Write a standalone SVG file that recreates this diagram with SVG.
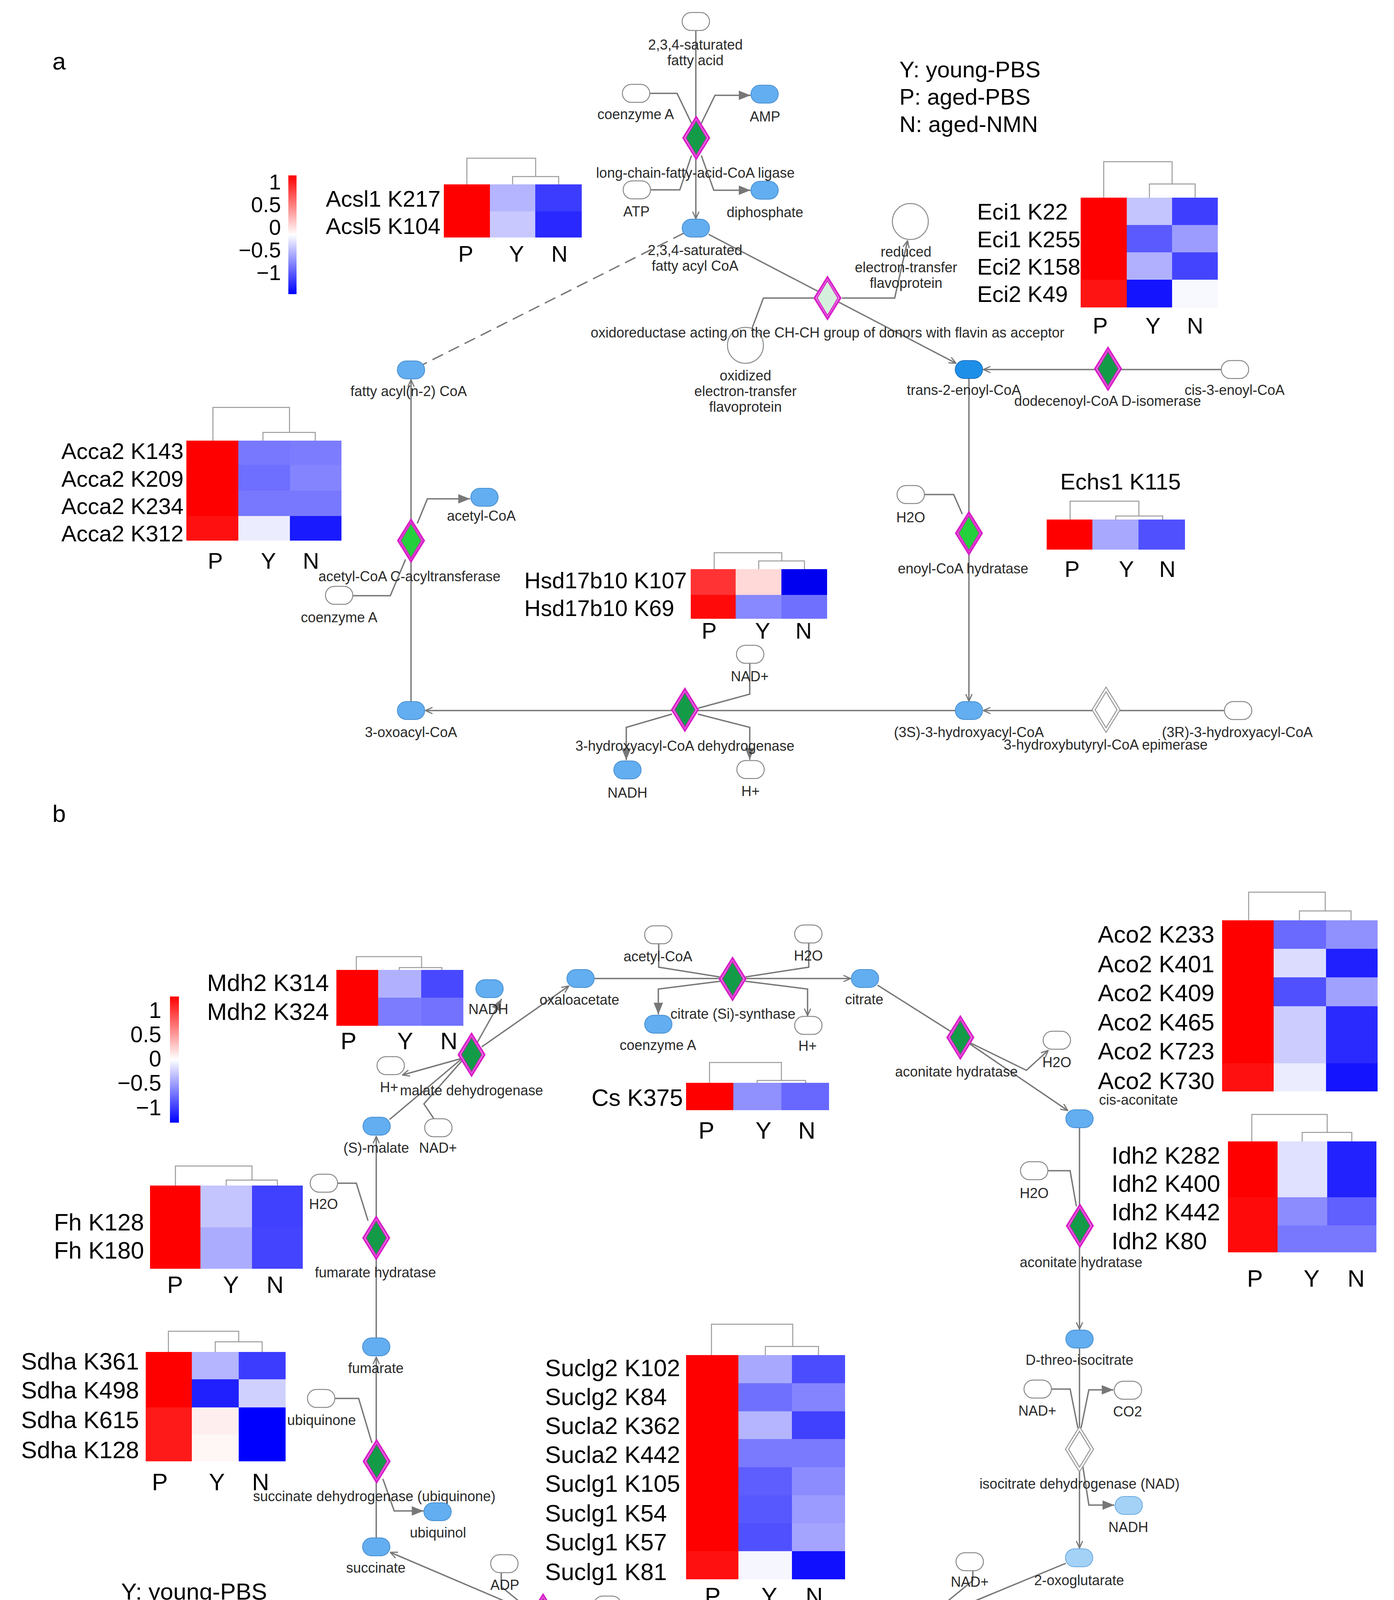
<svg xmlns="http://www.w3.org/2000/svg" xmlns:xlink="http://www.w3.org/1999/xlink" width="3568" height="4640" viewBox="0 0 3568 4640">
<style>
.t{font-family:"Liberation Sans",Arial,sans-serif;font-size:36px;fill:#2a2a2a;text-anchor:middle}
.h{font-family:"Liberation Sans",Arial,sans-serif;font-size:58px;fill:#000}
.hb{font-family:"Liberation Sans",Arial,sans-serif;font-size:61px;fill:#000}
.m{text-anchor:middle}
.e{text-anchor:end}
.cn{stroke:#777;stroke-width:3.5;fill:none}
.dash{stroke-dasharray:30 16}
.dd{stroke:#999;stroke-width:2.5;fill:none}
.bn{fill:#62aef0;stroke:#4a8fd0;stroke-width:2}
.dk{fill:#1e8fe8;stroke:#1a70c0;stroke-width:2}
.lb{fill:#a4d2f7;stroke:#6aaae0;stroke-width:2}
.wn{fill:#fff;stroke:#8a8a8a;stroke-width:2.5}
</style>
<defs>
<linearGradient id="cb" x1="0" y1="0" x2="0" y2="1">
<stop offset="0" stop-color="#ff0000"/><stop offset="0.5" stop-color="#ffffff"/><stop offset="1" stop-color="#0000ff"/>
</linearGradient>
<rect id="pill" x="-35" y="-23" width="70" height="46" rx="23"/>
<g id="dG"><polygon points="0,-58 36,0 0,58 -36,0" fill="#d81ec8"/><polygon points="0,-49 30,0 0,49 -30,0" fill="#fff"/><polygon points="0,-45 27,0 0,45 -27,0" fill="#139b48" stroke="#d81ec8" stroke-width="3"/></g>
<g id="dL"><polygon points="0,-58 36,0 0,58 -36,0" fill="#d81ec8"/><polygon points="0,-49 30,0 0,49 -30,0" fill="#e9a8e0"/><polygon points="0,-45 27,0 0,45 -27,0" fill="#24d03c" stroke="#d81ec8" stroke-width="3"/></g>
<g id="dP"><polygon points="0,-58 36,0 0,58 -36,0" fill="#d81ec8"/><polygon points="0,-49 30,0 0,49 -30,0" fill="#fff"/><polygon points="0,-45 27,0 0,45 -27,0" fill="#d4f0dc" stroke="#d81ec8" stroke-width="3"/></g>
<g id="dW"><polygon points="0,-58 36,0 0,58 -36,0" fill="#fff" stroke="#999" stroke-width="2.5"/><polygon points="0,-46 28,0 0,46 -28,0" fill="#fff" stroke="#999" stroke-width="2.5"/></g>
<marker id="mv" viewBox="0 0 22 22" refX="21" refY="11" markerWidth="22" markerHeight="22" markerUnits="userSpaceOnUse" orient="auto"><path d="M3,3 L21,11 L3,19" fill="none" stroke="#777" stroke-width="3"/></marker>
<marker id="mf" viewBox="0 0 30 24" refX="30" refY="12" markerWidth="30" markerHeight="24" markerUnits="userSpaceOnUse" orient="auto"><path d="M0,0 L30,12 L0,24 z" fill="#777"/></marker>
</defs>
<rect width="3568" height="4640" fill="#fff"/>

<text x="134" y="178" style="font-family:'Liberation Sans',Arial,sans-serif;font-size:62px">a</text>
<text x="134" y="2104" style="font-family:'Liberation Sans',Arial,sans-serif;font-size:62px">b</text>

<!-- connectors -->
<g id="connectors">
<path class="cn" d="M1781,77 V560" marker-end="url(#mv)"/>
<path class="cn" d="M1663,239 H1733 L1770,316"/>
<path class="cn" d="M1665,486 H1740 L1770,398"/>
<path class="cn" d="M1795,316 L1830,244 H1921" marker-end="url(#mf)"/>
<path class="cn" d="M1795,398 L1827,487 H1921" marker-end="url(#mf)"/>
<path class="cn dash" d="M1750,597 L1083,933"/>
<path class="cn" d="M1814,600 L2447,930" marker-end="url(#mv)"/>
<path class="cn" d="M2084,763 H1954 L1925,840"/>
<path class="cn" d="M2155,763 H2290 L2323,616" marker-end="url(#mv)"/>
<path class="cn" d="M3126,946 H2517" marker-end="url(#mv)"/>
<path class="cn" d="M2480,969 V1795" marker-end="url(#mv)"/>
<path class="cn" d="M2367,1266 H2441 L2463,1316"/>
<path class="cn" d="M3134,1819 H2517" marker-end="url(#mv)"/>
<path class="cn" d="M2445,1819 H1089" marker-end="url(#mv)"/>
<path class="cn" d="M1919,1698 V1777 L1787,1813"/>
<path class="cn" d="M1720,1828 L1603,1862 V1946" marker-end="url(#mf)"/>
<path class="cn" d="M1786,1828 L1919,1862 V1945" marker-end="url(#mf)"/>
<path class="cn" d="M1052,1796 V972" marker-end="url(#mv)"/>
<path class="cn" d="M1068,1340 L1094,1277 H1203" marker-end="url(#mf)"/>
<path class="cn" d="M903,1525 H999 L1038,1432"/>

<path class="cn" d="M1521,2505 H2177" marker-end="url(#mv)"/>
<path class="cn" d="M1686,2416 V2476 L1842,2501"/>
<path class="cn" d="M2070,2414 V2476 L1908,2501"/>
<path class="cn" d="M1843,2512 L1685,2532 V2597" marker-end="url(#mf)"/>
<path class="cn" d="M1908,2512 L2067,2532 V2600" marker-end="url(#mv)"/>
<path class="cn" d="M2246,2522 L2458,2656 L2733,2843" marker-end="url(#mv)"/>
<path class="cn" d="M2484,2670 L2627,2740 L2683,2689" marker-end="url(#mv)"/>
<path class="cn" d="M2763,2888 V3403" marker-end="url(#mv)"/>
<path class="cn" d="M2682,2997 H2739 L2755,3088"/>
<path class="cn" d="M2763,3452 V3963" marker-end="url(#mv)"/>
<path class="cn" d="M2691,3556 H2739 L2759,3656"/>
<path class="cn" d="M2767,3656 L2787,3558 H2850" marker-end="url(#mf)"/>
<path class="cn" d="M2770,3744 L2787,3853 H2852" marker-end="url(#mf)"/>
<path class="cn" d="M2728,4002 L2356,4156"/>
<path class="cn" d="M2490,4021 V4046 L2356,4156"/>
<path class="cn" d="M2356,4156 L2530,4117 L2553,4164" marker-end="url(#mf)"/>
<path class="cn" d="M2158,4153 V4203 L2356,4158"/>
<path class="cn" d="M2356,4156 L2191,4247 V4306" marker-end="url(#mf)"/>
<path class="cn" d="M2356,4156 L1918,4334" marker-end="url(#mv)"/>
<path class="cn" d="M2484,4346 L2362,4163" marker-end="url(#mv)"/>
<path class="cn" d="M1848,4340 L1422,4142"/>
<path class="cn" d="M1360,4128 L999,3974" marker-end="url(#mv)"/>
<path class="cn" d="M1283,4026 V4062 L1360,4125"/>
<path class="cn" d="M1544,4132 V4158 L1423,4141"/>
<path class="cn" d="M1358,4138 L1256,4118 L1238,4158" marker-end="url(#mf)"/>
<path class="cn" d="M1420,4146 L1510,4181 V4266" marker-end="url(#mf)"/>
<path class="cn" d="M963,3937 V3474" marker-end="url(#mv)"/>
<path class="cn" d="M856,3580 H918 L952,3694"/>
<path class="cn" d="M980,3786 L1009,3868 H1084" marker-end="url(#mf)"/>
<path class="cn" d="M963,3425 V2909" marker-end="url(#mv)"/>
<path class="cn" d="M862,3029 H912 L942,3125"/>
<path class="cn" d="M997,2866 L1180,2712"/>
<path class="cn" d="M1182,2716 L1085,2826 L1110,2863"/>
<path class="cn" d="M1180,2710 L1030,2752" marker-end="url(#mv)"/>
<path class="cn" d="M1233,2680 L1456,2524" marker-end="url(#mv)"/>
<path class="cn" d="M1222,2668 L1284,2557" marker-end="url(#mf)"/>
</g>

<!-- panel a nodes -->
<g id="n_fatty_acid"><use href="#pill" class="wn" x="1781" y="55"/><text class="t" x="1780" y="127">2,3,4-saturated</text><text class="t" x="1780" y="167">fatty acid</text></g>
<g id="n_coA_a1"><use href="#pill" class="wn" x="1628" y="239"/><text class="t" x="1627" y="305">coenzyme A</text></g>
<g id="n_ATP_a"><use href="#pill" class="wn" x="1630" y="486"/><text class="t" x="1629" y="554">ATP</text></g>
<g id="n_AMP"><use href="#pill" class="bn" x="1957" y="241"/><text class="t" x="1958" y="311">AMP</text></g>
<g id="n_PPi"><use href="#pill" class="bn" x="1957" y="487"/><text class="t" x="1958" y="556">diphosphate</text></g>
<g id="r_ligase"><use href="#dG" x="1782" y="353"/><text class="t" x="1780" y="455">long-chain-fatty-acid-CoA ligase</text></g>
<g id="n_acylCoA"><use href="#pill" class="bn" x="1781" y="584"/><text class="t" x="1779" y="653">2,3,4-saturated</text><text class="t" x="1779" y="693">fatty acyl CoA</text></g>
<g id="n_redETF"><circle cx="2330" cy="567" r="46" class="wn"/><text class="t" x="2319" y="657">reduced</text><text class="t" x="2319" y="697">electron-transfer</text><text class="t" x="2319" y="737">flavoprotein</text></g>
<g id="n_oxETF"><circle cx="1908" cy="884" r="46" class="wn"/><text class="t" x="1908" y="974">oxidized</text><text class="t" x="1908" y="1014">electron-transfer</text><text class="t" x="1908" y="1054">flavoprotein</text></g>
<g id="r_oxidoreductase"><use href="#dP" x="2118" y="763"/><text class="t" x="2118" y="864">oxidoreductase acting on the CH-CH group of donors with flavin as acceptor</text></g>
<g id="n_fattyacyl_n2"><use href="#pill" class="bn" x="1052" y="947"/><text class="t" x="1046" y="1014">fatty acyl(n-2) CoA</text></g>
<g id="n_trans2"><use href="#pill" class="dk" x="2480" y="946"/><text class="t" x="2467" y="1011">trans-2-enoyl-CoA</text></g>
<g id="r_isomerase"><use href="#dG" x="2836" y="944"/><text class="t" x="2835" y="1039">dodecenoyl-CoA D-isomerase</text></g>
<g id="n_cis3"><use href="#pill" class="wn" x="3161" y="946"/><text class="t" x="3160" y="1011">cis-3-enoyl-CoA</text></g>
<g id="n_H2O_a"><use href="#pill" class="wn" x="2331" y="1266"/><text class="t" x="2331" y="1337">H2O</text></g>
<g id="r_enoyl_hydratase"><use href="#dL" x="2480" y="1365"/><text class="t" x="2465" y="1468">enoyl-CoA hydratase</text></g>
<g id="n_acetylCoA_a"><use href="#pill" class="bn" x="1240" y="1273"/><text class="t" x="1232" y="1333">acetyl-CoA</text></g>
<g id="r_acyltransferase"><use href="#dL" x="1052" y="1384"/><text class="t" x="1048" y="1488">acetyl-CoA C-acyltransferase</text></g>
<g id="n_coA_a2"><use href="#pill" class="wn" x="868" y="1524"/><text class="t" x="868" y="1593">coenzyme A</text></g>
<g id="n_NAD_a"><use href="#pill" class="wn" x="1920" y="1675"/><text class="t" x="1919" y="1744">NAD+</text></g>
<g id="n_oxoacyl"><use href="#pill" class="bn" x="1052" y="1819"/><text class="t" x="1052" y="1887">3-oxoacyl-CoA</text></g>
<g id="r_hadh"><use href="#dG" x="1753" y="1817"/><text class="t" x="1753" y="1922">3-hydroxyacyl-CoA dehydrogenase</text></g>
<g id="n_3S"><use href="#pill" class="bn" x="2480" y="1819"/><text class="t" x="2480" y="1887">(3S)-3-hydroxyacyl-CoA</text></g>
<g id="r_epimerase"><use href="#dW" x="2831" y="1817"/><text class="t" x="2830" y="1919">3-hydroxybutyryl-CoA epimerase</text></g>
<g id="n_3R"><use href="#pill" class="wn" x="3169" y="1819"/><text class="t" x="3167" y="1887">(3R)-3-hydroxyacyl-CoA</text></g>
<g id="n_NADH_a"><use href="#pill" class="bn" x="1606" y="1971"/><text class="t" x="1606" y="2042">NADH</text></g>
<g id="n_H_a"><use href="#pill" class="wn" x="1921" y="1970"/><text class="t" x="1921" y="2038">H+</text></g>

<!-- panel b nodes -->
<g id="n_oxaloacetate"><use href="#pill" class="bn" x="1486" y="2505"/><text class="t" x="1483" y="2572">oxaloacetate</text></g>
<g id="n_citrate"><use href="#pill" class="bn" x="2214" y="2505"/><text class="t" x="2212" y="2571">citrate</text></g>
<g id="n_acetylCoA_b"><use href="#pill" class="wn" x="1685" y="2393"/><text class="t" x="1684" y="2461">acetyl-CoA</text></g>
<g id="n_H2O_b1"><use href="#pill" class="wn" x="2069" y="2391"/><text class="t" x="2069" y="2459">H2O</text></g>
<g id="r_cs"><use href="#dG" x="1875" y="2506"/><text class="t" x="1876" y="2608">citrate (Si)-synthase</text></g>
<g id="n_coA_b1"><use href="#pill" class="bn" x="1685" y="2622"/><text class="t" x="1684" y="2688">coenzyme A</text></g>
<g id="n_H_b1"><use href="#pill" class="wn" x="2069" y="2625"/><text class="t" x="2067" y="2690">H+</text></g>
<g id="n_NADH_b1"><use href="#pill" class="bn" x="1253" y="2531"/><text class="t" x="1250" y="2596">NADH</text></g>
<g id="r_mdh"><use href="#dG" x="1207" y="2700"/><text class="t" x="1207" y="2804">malate dehydrogenase</text></g>
<g id="n_H_b2"><use href="#pill" class="wn" x="1000" y="2728"/><text class="t" x="996" y="2796">H+</text></g>
<g id="n_NAD_b1"><use href="#pill" class="wn" x="1122" y="2887"/><text class="t" x="1121" y="2951">NAD+</text></g>
<g id="n_malate"><use href="#pill" class="bn" x="964" y="2883"/><text class="t" x="963" y="2951">(S)-malate</text></g>
<g id="r_aco1"><use href="#dG" x="2458" y="2656"/><text class="t" x="2448" y="2756">aconitate hydratase</text></g>
<g id="n_H2O_b2"><use href="#pill" class="wn" x="2705" y="2663"/><text class="t" x="2705" y="2732">H2O</text></g>
<g id="n_cisaconitate"><use href="#pill" class="bn" x="2763" y="2864"/><text class="t" x="2914" y="2828">cis-aconitate</text></g>
<g id="n_H2O_b3"><use href="#pill" class="wn" x="2647" y="2997"/><text class="t" x="2647" y="3067">H2O</text></g>
<g id="r_aco2"><use href="#dG" x="2764" y="3138"/><text class="t" x="2767" y="3244">aconitate hydratase</text></g>
<g id="n_H2O_b4"><use href="#pill" class="wn" x="829" y="3029"/><text class="t" x="828" y="3095">H2O</text></g>
<g id="r_fh"><use href="#dG" x="963" y="3169"/><text class="t" x="961" y="3270">fumarate hydratase</text></g>
<g id="n_Dthreo"><use href="#pill" class="bn" x="2763" y="3428"/><text class="t" x="2763" y="3494">D-threo-isocitrate</text></g>
<g id="n_fumarate"><use href="#pill" class="bn" x="963" y="3448"/><text class="t" x="962" y="3515">fumarate</text></g>
<g id="n_NAD_b2"><use href="#pill" class="wn" x="2656" y="3556"/><text class="t" x="2655" y="3624">NAD+</text></g>
<g id="n_CO2_b1"><use href="#pill" class="wn" x="2887" y="3559"/><text class="t" x="2886" y="3626">CO2</text></g>
<g id="r_idh"><use href="#dW" x="2763" y="3710"/><text class="t" x="2763" y="3811">isocitrate dehydrogenase (NAD)</text></g>
<g id="n_NADH_b2"><use href="#pill" class="lb" x="2889" y="3854"/><text class="t" x="2888" y="3922">NADH</text></g>
<g id="n_ubiquinone"><use href="#pill" class="wn" x="822" y="3580"/><text class="t" x="823" y="3648">ubiquinone</text></g>
<g id="r_sdh"><use href="#dG" x="964" y="3741"/><text class="t" x="958" y="3843">succinate dehydrogenase (ubiquinone)</text></g>
<g id="n_ubiquinol"><use href="#pill" class="bn" x="1120" y="3870"/><text class="t" x="1121" y="3936">ubiquinol</text></g>
<g id="n_succinate"><use href="#pill" class="bn" x="963" y="3960"/><text class="t" x="962" y="4026">succinate</text></g>
<g id="n_2OG"><use href="#pill" class="lb" x="2762" y="3988"/><text class="t" x="2762" y="4058">2-oxoglutarate</text></g>
<g id="n_NAD_b3"><use href="#pill" class="wn" x="2482" y="3998"/><text class="t" x="2482" y="4062">NAD+</text></g>
<g id="n_ADP"><use href="#pill" class="wn" x="1291" y="4003"/><text class="t" x="1292" y="4070">ADP</text></g>
<g id="n_phosphate"><use href="#pill" class="wn" x="1555" y="4109"/><text class="t" x="1556" y="4177">phosphate</text></g>
<g id="r_scs"><use href="#dG" x="1390" y="4136"/><text class="t" x="1385" y="4240">succinate-CoA ligase (ADP-forming)</text></g>
<g id="n_coA_b3"><use href="#pill" class="bn" x="1220" y="4182"/><text class="t" x="1216" y="4266">coenzyme A</text></g>
<g id="n_coA_b2"><use href="#pill" class="wn" x="2136" y="4130"/><text class="t" x="2136" y="4197">coenzyme A</text></g>
<g id="n_CO2_b2"><use href="#pill" class="wn" x="2565" y="4189"/><text class="t" x="2565" y="4255">CO2</text></g>
<g id="n_ATP_b"><use href="#pill" class="bn" x="1485" y="4291"/><text class="t" x="1485" y="4360">ATP</text></g>
<g id="n_NADH_b3"><use href="#pill" class="bn" x="2216" y="4331"/><text class="t" x="2216" y="4397">NADH</text></g>
<g id="n_succinylCoA"><use href="#pill" class="bn" x="1882" y="4346"/><text class="t" x="1883" y="4413">succinyl-CoA</text></g>
<g id="r_ogdh"><use href="#dG" x="2501" y="4403"/><text class="t" x="2500" y="4506">2-ketoglutarate dehydrogenase complex</text><text class="t" x="2500" y="4547">2-oxoglutarate dehydrogenase E1 component-like, mitochondrial</text><text class="t" x="2500" y="4588">Probable 2-oxoglutarate dehydrogenase E1 component DHKTD1, mitochondrial</text></g>

<!-- legends / colorbars -->
<g id="legend_a"><text class="h" x="2302" y="198">Y: young-PBS</text><text class="h" x="2302" y="268">P: aged-PBS</text><text class="h" x="2302" y="338">N: aged-NMN</text></g>
<g id="colorbar_a"><rect x="738" y="449" width="21" height="304" fill="url(#cb)"/>
<text class="h e" style="font-size:55px" x="719" y="485">1</text><text class="h e" style="font-size:55px" x="719" y="543">0.5</text><text class="h e" style="font-size:55px" x="719" y="601">0</text><text class="h e" style="font-size:55px" x="719" y="659">−0.5</text><text class="h e" style="font-size:55px" x="719" y="717">−1</text></g>
<g id="legend_b"><text class="hb" style="font-size:60px" x="310" y="4095">Y: young-PBS</text><text class="hb" style="font-size:60px" x="310" y="4169">P: aged-PBS</text><text class="hb" style="font-size:60px" x="310" y="4243">N: aged-NMN</text></g>
<g id="colorbar_b"><rect x="435" y="2551" width="23" height="323" fill="url(#cb)"/>
<text class="h e" style="font-size:57px" x="413" y="2606">1</text><text class="h e" style="font-size:57px" x="413" y="2668">0.5</text><text class="h e" style="font-size:57px" x="413" y="2730">0</text><text class="h e" style="font-size:57px" x="413" y="2792">−0.5</text><text class="h e" style="font-size:57px" x="413" y="2855">−1</text></g>

<!-- heatmaps panel a -->
<g id="hm_acsl">
<rect x="1136" y="472" width="118" height="69" fill="#ff0000"/><rect x="1254" y="472" width="116" height="69" fill="#b4b4ff"/><rect x="1370" y="472" width="119" height="69" fill="#3c3cff"/>
<rect x="1136" y="541" width="118" height="67" fill="#ff0000"/><rect x="1254" y="541" width="116" height="67" fill="#c8c8ff"/><rect x="1370" y="541" width="119" height="67" fill="#2828ff"/>
<path class="dd" d="M1195,472 V405 H1371 V452 M1312,472 V452 H1430 V472"/>
<text class="h" x="834" y="529">Acsl1 K217</text><text class="h" x="834" y="599">Acsl5 K104</text>
<text class="h m" x="1192" y="670">P</text><text class="h m" x="1322" y="670">Y</text><text class="h m" x="1432" y="670">N</text>
</g>
<g id="hm_eci">
<rect x="2766" y="506" width="118" height="70" fill="#ff0000"/><rect x="2884" y="506" width="116" height="70" fill="#c4c4ff"/><rect x="3000" y="506" width="117" height="70" fill="#3e3eff"/>
<rect x="2766" y="576" width="118" height="70" fill="#ff0000"/><rect x="2884" y="576" width="116" height="70" fill="#5a5aff"/><rect x="3000" y="576" width="117" height="70" fill="#9c9cff"/>
<rect x="2766" y="646" width="118" height="70" fill="#ff0000"/><rect x="2884" y="646" width="116" height="70" fill="#b0b0ff"/><rect x="3000" y="646" width="117" height="70" fill="#4444ff"/>
<rect x="2766" y="716" width="118" height="71" fill="#ff1414"/><rect x="2884" y="716" width="116" height="71" fill="#1414ff"/><rect x="3000" y="716" width="117" height="71" fill="#f8f8ff"/>
<path class="dd" d="M2825,506 V414 H3000 V471 M2942,506 V471 H3059 V506"/>
<text class="h" x="2501" y="562">Eci1 K22</text><text class="h" x="2501" y="633">Eci1 K255</text><text class="h" x="2501" y="703">Eci2 K158</text><text class="h" x="2501" y="773">Eci2 K49</text>
<text class="h m" x="2816" y="854">P</text><text class="h m" x="2951" y="854">Y</text><text class="h m" x="3059" y="854">N</text>
</g>
<g id="hm_echs1">
<rect x="2679" y="1330" width="117" height="77" fill="#ff0000"/><rect x="2796" y="1330" width="118" height="77" fill="#a8a8ff"/><rect x="2914" y="1330" width="119" height="77" fill="#5050ff"/>
<path class="dd" d="M2739,1330 V1283 H2915 V1321 M2856,1330 V1321 H2976 V1330"/>
<text class="h m" x="2868" y="1253">Echs1 K115</text>
<text class="h m" x="2744" y="1477">P</text><text class="h m" x="2883" y="1477">Y</text><text class="h m" x="2988" y="1477">N</text>
</g>
<g id="hm_acca2">
<rect x="477" y="1128" width="133" height="62" fill="#ff0000"/><rect x="610" y="1128" width="132" height="62" fill="#7878ff"/><rect x="742" y="1128" width="132" height="62" fill="#7c7cff"/>
<rect x="477" y="1190" width="133" height="66" fill="#ff0000"/><rect x="610" y="1190" width="132" height="66" fill="#6e6eff"/><rect x="742" y="1190" width="132" height="66" fill="#8484ff"/>
<rect x="477" y="1256" width="133" height="65" fill="#ff0000"/><rect x="610" y="1256" width="132" height="65" fill="#7878ff"/><rect x="742" y="1256" width="132" height="65" fill="#7878ff"/>
<rect x="477" y="1321" width="133" height="63" fill="#ff1010"/><rect x="610" y="1321" width="132" height="63" fill="#ececff"/><rect x="742" y="1321" width="132" height="63" fill="#1a1aff"/>
<path class="dd" d="M545,1128 V1043 H741 V1107 M673,1128 V1107 H807 V1128"/>
<text class="h" x="157" y="1175">Acca2 K143</text><text class="h" x="157" y="1246">Acca2 K209</text><text class="h" x="157" y="1316">Acca2 K234</text><text class="h" x="157" y="1386">Acca2 K312</text>
<text class="h m" x="551" y="1456">P</text><text class="h m" x="687" y="1456">Y</text><text class="h m" x="796" y="1456">N</text>
</g>
<g id="hm_hsd">
<rect x="1768" y="1457" width="115" height="66" fill="#ff3333"/><rect x="1883" y="1457" width="117" height="66" fill="#ffd8d8"/><rect x="2000" y="1457" width="117" height="66" fill="#0000f0"/>
<rect x="1768" y="1523" width="115" height="61" fill="#ff0a0a"/><rect x="1883" y="1523" width="117" height="61" fill="#8888ff"/><rect x="2000" y="1523" width="117" height="61" fill="#7070ff"/>
<path class="dd" d="M1828,1457 V1415 H2001 V1436 M1942,1457 V1436 H2059 V1457"/>
<text class="h" x="1342" y="1506">Hsd17b10 K107</text><text class="h" x="1342" y="1577">Hsd17b10 K69</text>
<text class="h m" x="1815" y="1635">P</text><text class="h m" x="1952" y="1635">Y</text><text class="h m" x="2057" y="1635">N</text>
</g>

<!-- heatmaps panel b -->
<g id="hm_mdh2">
<rect x="861" y="2483" width="107" height="71" fill="#ff0000"/><rect x="968" y="2483" width="110" height="71" fill="#b0b0ff"/><rect x="1078" y="2483" width="108" height="71" fill="#4848ff"/>
<rect x="861" y="2554" width="107" height="72" fill="#ff0000"/><rect x="968" y="2554" width="110" height="72" fill="#7c7cff"/><rect x="1078" y="2554" width="108" height="72" fill="#7272ff"/>
<path class="dd" d="M912,2483 V2449 H1079 V2477 M1022,2483 V2477 H1131 V2483"/>
<text class="hb" x="530" y="2537">Mdh2 K314</text><text class="hb" x="530" y="2611">Mdh2 K324</text>
<text class="hb m" x="892" y="2686">P</text><text class="hb m" x="1037" y="2686">Y</text><text class="hb m" x="1149" y="2686">N</text>
</g>
<g id="hm_cs">
<rect x="1756" y="2772" width="121" height="70" fill="#ff0000"/><rect x="1877" y="2772" width="123" height="70" fill="#9090ff"/><rect x="2000" y="2772" width="122" height="70" fill="#6868ff"/>
<path class="dd" d="M1816,2772 V2720 H2000 V2766 M1938,2772 V2766 H2062 V2772"/>
<text class="hb" x="1514" y="2831">Cs K375</text>
<text class="hb m" x="1808" y="2915">P</text><text class="hb m" x="1954" y="2915">Y</text><text class="hb m" x="2065" y="2915">N</text>
</g>
<g id="hm_aco2">
<rect x="3128" y="2356" width="132" height="73" fill="#ff0000"/><rect x="3260" y="2356" width="134" height="73" fill="#6a6aff"/><rect x="3394" y="2356" width="132" height="73" fill="#9090ff"/>
<rect x="3128" y="2429" width="132" height="73" fill="#ff0000"/><rect x="3260" y="2429" width="134" height="73" fill="#dcdcff"/><rect x="3394" y="2429" width="132" height="73" fill="#2020ff"/>
<rect x="3128" y="2502" width="132" height="74" fill="#ff0000"/><rect x="3260" y="2502" width="134" height="74" fill="#5050ff"/><rect x="3394" y="2502" width="132" height="74" fill="#a0a0ff"/>
<rect x="3128" y="2576" width="132" height="74" fill="#ff0000"/><rect x="3260" y="2576" width="134" height="74" fill="#ccccff"/><rect x="3394" y="2576" width="132" height="74" fill="#2a2aff"/>
<rect x="3128" y="2650" width="132" height="72" fill="#ff0000"/><rect x="3260" y="2650" width="134" height="72" fill="#ccccff"/><rect x="3394" y="2650" width="132" height="72" fill="#2a2aff"/>
<rect x="3128" y="2722" width="132" height="72" fill="#ff1010"/><rect x="3260" y="2722" width="134" height="72" fill="#ececff"/><rect x="3394" y="2722" width="132" height="72" fill="#1414ff"/>
<path class="dd" d="M3196,2356 V2284 H3392 V2332 M3326,2356 V2332 H3458 V2356"/>
<text class="hb" x="2810" y="2413">Aco2 K233</text><text class="hb" x="2810" y="2489">Aco2 K401</text><text class="hb" x="2810" y="2563">Aco2 K409</text><text class="hb" x="2810" y="2638">Aco2 K465</text><text class="hb" x="2810" y="2712">Aco2 K723</text><text class="hb" x="2810" y="2788">Aco2 K730</text>
</g>
<g id="hm_idh2">
<rect x="3143" y="2922" width="127" height="71" fill="#ff0000"/><rect x="3270" y="2922" width="127" height="71" fill="#e0e0ff"/><rect x="3397" y="2922" width="126" height="71" fill="#2222ff"/>
<rect x="3143" y="2993" width="127" height="72" fill="#ff0000"/><rect x="3270" y="2993" width="127" height="72" fill="#e0e0ff"/><rect x="3397" y="2993" width="126" height="72" fill="#2222ff"/>
<rect x="3143" y="3065" width="127" height="72" fill="#ff0a0a"/><rect x="3270" y="3065" width="127" height="72" fill="#8c8cff"/><rect x="3397" y="3065" width="126" height="72" fill="#6060ff"/>
<rect x="3143" y="3137" width="127" height="69" fill="#ff0a0a"/><rect x="3270" y="3137" width="127" height="69" fill="#7878ff"/><rect x="3397" y="3137" width="126" height="69" fill="#7878ff"/>
<path class="dd" d="M3204,2922 V2853 H3397 V2899 M3333,2922 V2899 H3460 V2922"/>
<text class="hb" x="2845" y="2979">Idh2 K282</text><text class="hb" x="2845" y="3051">Idh2 K400</text><text class="hb" x="2845" y="3124">Idh2 K442</text><text class="hb" x="2845" y="3198">Idh2 K80</text>
<text class="hb m" x="3212" y="3294">P</text><text class="hb m" x="3357" y="3294">Y</text><text class="hb m" x="3471" y="3294">N</text>
</g>
<g id="hm_fh">
<rect x="384" y="3035" width="129" height="107" fill="#ff0000"/><rect x="513" y="3035" width="132" height="107" fill="#c4c4ff"/><rect x="645" y="3035" width="130" height="107" fill="#4040ff"/>
<rect x="384" y="3142" width="129" height="106" fill="#ff0000"/><rect x="513" y="3142" width="132" height="106" fill="#acacff"/><rect x="645" y="3142" width="130" height="106" fill="#4444ff"/>
<path class="dd" d="M449,3035 V2985 H645 V3021 M579,3035 V3021 H710 V3035"/>
<text class="hb" x="138" y="3150">Fh K128</text><text class="hb" x="138" y="3222">Fh K180</text>
<text class="hb m" x="448" y="3310">P</text><text class="hb m" x="591" y="3310">Y</text><text class="hb m" x="704" y="3310">N</text>
</g>
<g id="hm_sdha">
<rect x="373" y="3461" width="118" height="70" fill="#ff0000"/><rect x="491" y="3461" width="120" height="70" fill="#b4b4ff"/><rect x="611" y="3461" width="120" height="70" fill="#3c3cff"/>
<rect x="373" y="3531" width="118" height="72" fill="#ff0000"/><rect x="491" y="3531" width="120" height="72" fill="#2020ff"/><rect x="611" y="3531" width="120" height="72" fill="#d0d0ff"/>
<rect x="373" y="3603" width="118" height="69" fill="#ff1a1a"/><rect x="491" y="3603" width="120" height="69" fill="#ffeeee"/><rect x="611" y="3603" width="120" height="69" fill="#0000ff"/>
<rect x="373" y="3672" width="118" height="69" fill="#ff1a1a"/><rect x="491" y="3672" width="120" height="69" fill="#fff6f6"/><rect x="611" y="3672" width="120" height="69" fill="#0000ff"/>
<path class="dd" d="M431,3461 V3408 H611 V3435 M551,3461 V3435 H671 V3461"/>
<text class="hb" x="54" y="3506">Sdha K361</text><text class="hb" x="54" y="3580">Sdha K498</text><text class="hb" x="54" y="3656">Sdha K615</text><text class="hb" x="54" y="3733">Sdha K128</text>
<text class="hb m" x="409" y="3815">P</text><text class="hb m" x="555" y="3815">Y</text><text class="hb m" x="667" y="3815">N</text>
</g>
<g id="hm_sucl">
<rect x="1756" y="3469" width="134" height="72" fill="#ff0000"/><rect x="1890" y="3469" width="137" height="72" fill="#a8a8ff"/><rect x="2027" y="3469" width="136" height="72" fill="#4c4cff"/>
<rect x="1756" y="3541" width="134" height="72" fill="#ff0000"/><rect x="1890" y="3541" width="137" height="72" fill="#7070ff"/><rect x="2027" y="3541" width="136" height="72" fill="#8484ff"/>
<rect x="1756" y="3613" width="134" height="71" fill="#ff0000"/><rect x="1890" y="3613" width="137" height="71" fill="#b4b4ff"/><rect x="2027" y="3613" width="136" height="71" fill="#4040ff"/>
<rect x="1756" y="3684" width="134" height="72" fill="#ff0000"/><rect x="1890" y="3684" width="137" height="72" fill="#7a7aff"/><rect x="2027" y="3684" width="136" height="72" fill="#7a7aff"/>
<rect x="1756" y="3756" width="134" height="72" fill="#ff0000"/><rect x="1890" y="3756" width="137" height="72" fill="#5e5eff"/><rect x="2027" y="3756" width="136" height="72" fill="#8c8cff"/>
<rect x="1756" y="3828" width="134" height="71" fill="#ff0000"/><rect x="1890" y="3828" width="137" height="71" fill="#5858ff"/><rect x="2027" y="3828" width="136" height="71" fill="#9a9aff"/>
<rect x="1756" y="3899" width="134" height="72" fill="#ff0000"/><rect x="1890" y="3899" width="137" height="72" fill="#5050ff"/><rect x="2027" y="3899" width="136" height="72" fill="#a4a4ff"/>
<rect x="1756" y="3971" width="134" height="72" fill="#ff1010"/><rect x="1890" y="3971" width="137" height="72" fill="#f6f6ff"/><rect x="2027" y="3971" width="136" height="72" fill="#1010ff"/>
<path class="dd" d="M1821,3469 V3390 H2029 V3447 M1959,3469 V3447 H2095 V3469"/>
<text class="hb" x="1395" y="3523">Suclg2 K102</text><text class="hb" x="1395" y="3597">Suclg2 K84</text><text class="hb" x="1395" y="3671">Sucla2 K362</text><text class="hb" x="1395" y="3745">Sucla2 K442</text><text class="hb" x="1395" y="3819">Suclg1 K105</text><text class="hb" x="1395" y="3895">Suclg1 K54</text><text class="hb" x="1395" y="3969">Suclg1 K57</text><text class="hb" x="1395" y="4045">Suclg1 K81</text>
<text class="hb m" x="1824" y="4107">P</text><text class="hb m" x="1969" y="4107">Y</text><text class="hb m" x="2084" y="4107">N</text>
</g>
<g id="hm_dhktd1">
<rect x="3039" y="4259" width="132" height="77" fill="#0000f4"/><rect x="3171" y="4259" width="132" height="77" fill="#ff4040"/><rect x="3303" y="4259" width="132" height="77" fill="#ffb8b8"/>
<rect x="3039" y="4336" width="132" height="78" fill="#2020ff"/><rect x="3171" y="4336" width="132" height="78" fill="#ff0808"/><rect x="3303" y="4336" width="132" height="78" fill="#e4e4ff"/>
<path class="dd" d="M3106,4259 V4207 H3305 V4234 M3240,4259 V4234 H3370 V4259"/>
<text class="hb" x="2677" y="4333">Dhktd1 K804</text><text class="hb" x="2677" y="4407">Dhktd1 K882</text>
<text class="hb m" x="3111" y="4477">Y</text><text class="hb m" x="3240" y="4477">P</text><text class="hb m" x="3368" y="4477">N</text>
</g>
</svg>
